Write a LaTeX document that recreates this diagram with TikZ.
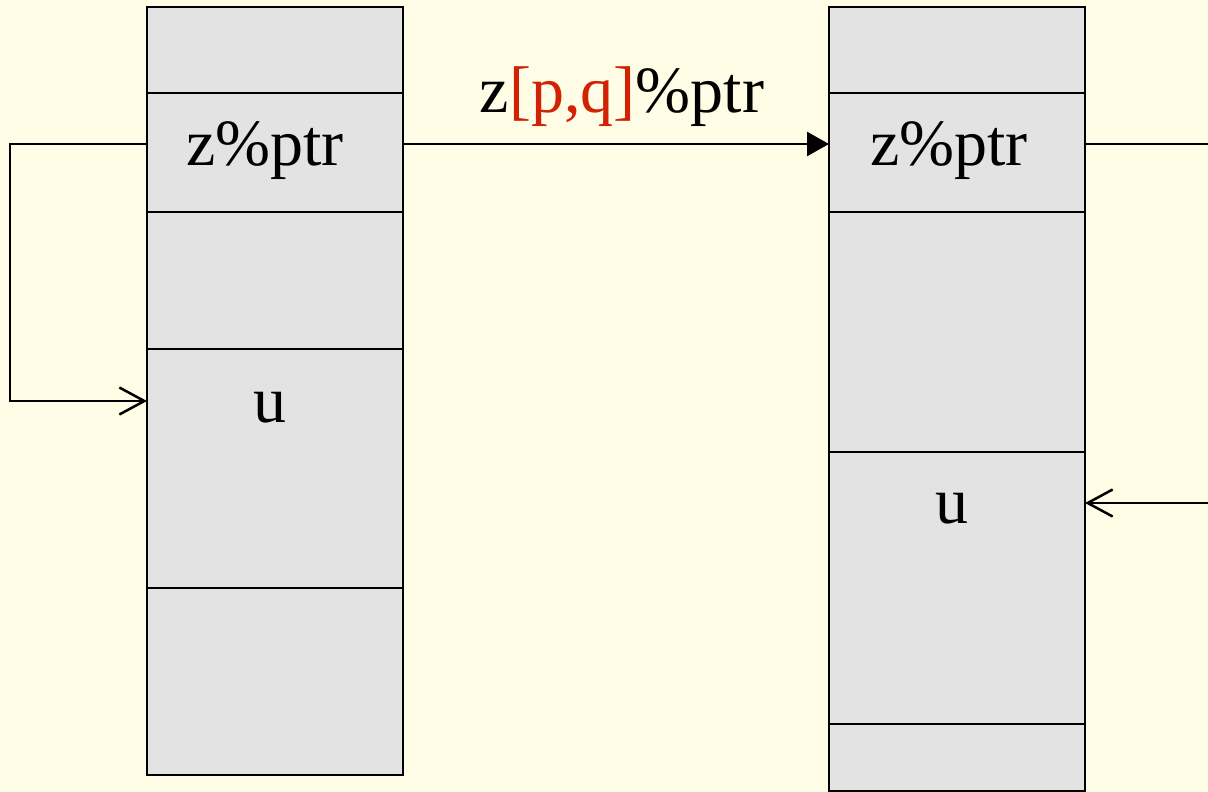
\documentclass[tikz,border=0pt]{standalone}
\usepackage{fontspec}
\setmainfont{Liberation Serif}
\usetikzlibrary{arrows.meta}
\definecolor{bgc}{RGB}{255,253,229}
\definecolor{cellc}{RGB}{227,227,227}
\definecolor{redc}{RGB}{210,34,6}
\tikzset{
  cell/.style={draw=black, fill=cellc, line width=2.5pt, minimum width=256pt, inner sep=0pt, outer sep=0pt, anchor=north west},
  lbl/.style={font=\fontsize{66}{70}\selectfont, inner sep=0pt, anchor=base},
  conn/.style={line width=2.5pt},
  openarrow/.style={conn, -{Straight Barb[length=25pt, width=27pt, line width=2.5pt]}},
  fillarrow/.style={conn, -{Triangle[length=22pt, width=24pt]}}
}
\begin{document}
\begin{tikzpicture}[x=1pt, y=-1pt]
\fill[bgc] (0,0) rectangle (1208,792);
\useasboundingbox (0,0) rectangle (1208,792);
% left column
\node[cell, minimum height=86pt]  (L0) at (147,7)   {};
\node[cell, minimum height=119pt] (L1) at (147,93)  {};
\node[cell, minimum height=137pt] (L2) at (147,212) {};
\node[cell, minimum height=239pt] (L3) at (147,349) {};
\node[cell, minimum height=187pt] (L4) at (147,588) {};
% right column
\node[cell, minimum height=86pt]  (R0) at (829,7)   {};
\node[cell, minimum height=119pt] (R1) at (829,93)  {};
\node[cell, minimum height=240pt] (R2) at (829,212) {};
\node[cell, minimum height=272pt] (R3) at (829,452) {};
\node[cell, minimum height=67.5pt] (R4) at (829,724) {};
% texts
\node[lbl] (tL1) at (265,165) {z\%ptr};
\node[lbl] (tL3) at (270,422) {u};
\node[lbl] (tR1) at (949,165) {z\%ptr};
\node[lbl] (tR3) at (952,523) {u};
\node[lbl] (lab) at (622,113) {z\textcolor{redc}{[p,q]}\%ptr};
% free ends
\coordinate (e1) at (1208,144);
\coordinate (e2) at (1208,503);
% connectors
\draw[fillarrow] (L1.east |- 0,144) -- (R1.west |- 0,144);
\draw[openarrow] (L1.west |- 0,144) -- (10,144) -- (10,401) -- (L3.west |- 0,401);
\draw[conn] (R1.east |- e1) -- (e1);
\draw[openarrow] (e2) -- (R3.east |- e2);
\end{tikzpicture}
\end{document}
